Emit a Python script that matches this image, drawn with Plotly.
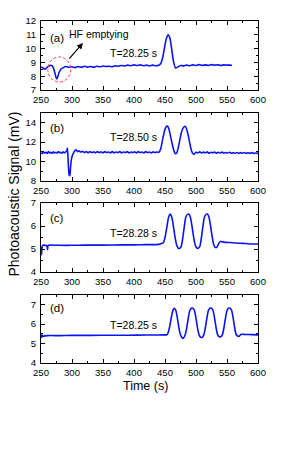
import plotly.graph_objects as go

# ---------------- data ----------------
t_a = [250, 253, 256, 259, 262, 265, 268, 270, 272, 274, 275.5, 277, 279, 282, 286, 290, 295, 300, 305, 310,
       315, 320, 325, 330, 335, 340, 345, 350, 355, 360, 365, 370, 375, 380, 385, 390, 395, 400, 405, 410,
       415, 420, 425, 430, 435, 440, 443, 446, 449, 452, 455, 458, 461, 464, 467, 470, 475, 480, 485, 490,
       495, 500, 505, 510, 515, 520, 525, 530, 535, 540, 545, 550, 555, 558]
v_a = [8.68, 8.6, 8.52, 8.6, 8.72, 8.78, 8.75, 8.6, 8.3, 7.95, 7.8, 7.95, 8.25, 8.5, 8.62, 8.7, 8.65, 8.68, 8.62, 8.7,
       8.64, 8.72, 8.66, 8.7, 8.65, 8.72, 8.68, 8.74, 8.7, 8.72, 8.68, 8.75, 8.72, 8.78, 8.74, 8.8, 8.76, 8.82, 8.78, 8.82,
       8.76, 8.8, 8.74, 8.8, 8.76, 8.8, 8.9, 9.3, 10.0, 10.7, 11.0, 10.75, 9.9, 9.0, 8.6, 8.65, 8.78, 8.75, 8.8, 8.76,
       8.82, 8.78, 8.84, 8.78, 8.82, 8.78, 8.84, 8.8, 8.82, 8.78, 8.82, 8.8, 8.8, 8.78]

t_b = [250, 252, 254, 256, 258, 260, 262, 264, 266, 268, 270, 272, 274, 276, 278, 280, 282, 284, 286, 288,
       290, 291.5, 292.5, 293.5, 294.5, 295.5, 296.5, 297.5, 299, 301, 303, 305, 307, 309, 311, 314, 317, 320, 323, 326,
       329, 332, 335, 338, 341, 344, 347, 350, 353, 356, 359, 362, 365, 368, 371, 374, 377, 380, 383, 386,
       389, 392, 395, 398, 401, 404, 407, 410, 413, 416, 419, 422, 425, 428, 431, 434, 437, 440, 443, 446,
       449, 452, 454, 456, 459, 462, 465, 467, 469, 472, 475, 478, 481, 483, 486, 489, 492, 495, 497, 500,
       503, 506, 509, 512, 515, 518, 521, 524, 527, 530, 533, 536, 539, 542, 545, 548, 551, 554, 557, 560,
       563, 566, 569, 572, 575, 578, 581, 584, 587, 590, 593, 596, 600]
v_b = [10.9, 10.82, 11.02, 10.86, 10.96, 10.84, 11.02, 10.88, 10.96, 10.84, 11.0, 10.88, 10.96, 10.86, 11.02, 10.9, 10.96, 10.86, 11.0, 10.9,
       11.0, 11.1, 11.4, 10.5, 9.2, 8.6, 8.55, 9.3, 10.2, 10.7, 10.95, 11.15, 11.2, 11.02, 11.12, 10.98, 11.05, 10.92, 11.04, 10.9,
       11.02, 10.92, 11.0, 10.9, 11.03, 10.92, 11.0, 10.9, 11.02, 10.92, 10.98, 10.9, 11.02, 10.9, 10.98, 10.92, 11.02, 10.9, 10.98, 10.92,
       11.02, 10.9, 10.98, 10.92, 11.0, 10.9, 11.02, 10.92, 10.98, 10.9, 11.02, 10.92, 10.98, 10.9, 11.0, 10.92, 10.98, 10.95, 11.3, 12.2,
       13.1, 13.6, 13.65, 13.4, 12.6, 11.7, 11.0, 10.8, 10.9, 11.6, 12.6, 13.3, 13.6, 13.6, 13.1, 12.2, 11.3, 10.8, 10.75, 10.95,
       10.9, 11.0, 10.88, 10.98, 10.9, 11.0, 10.86, 10.96, 10.9, 10.98, 10.86, 10.96, 10.88, 10.98, 10.86, 10.94, 10.88, 10.96, 10.86, 10.92,
       10.86, 10.94, 10.84, 10.92, 10.86, 10.94, 10.84, 10.9, 10.84, 10.92, 10.84, 10.88, 10.84]

t_c = [250, 250.8, 251.5, 252.5, 255, 258, 259.5, 260.5, 261.5, 265, 280, 300, 320, 350, 380, 400, 420, 440, 444, 447,
       450, 453, 456, 458.5, 461, 463.5, 466, 468.5, 471, 473.5, 476, 478.5, 481, 483.5, 486, 488.5, 491, 493.5, 496, 498.5,
       501, 503.5, 506, 508.5, 511, 513.5, 516, 518.5, 521, 523.5, 526, 528.5, 531, 533.5, 536, 539, 545, 555, 570, 580,
       590, 600]
v_c = [5.1, 4.75, 5.0, 5.15, 5.17, 5.15, 5.15, 4.97, 5.15, 5.17, 5.16, 5.16, 5.17, 5.17, 5.18, 5.18, 5.19, 5.2, 5.24, 5.26,
       5.5, 5.95, 6.4, 6.52, 6.38, 6.0, 5.55, 5.2, 5.05, 5.02, 5.1, 5.45, 5.95, 6.38, 6.5, 6.52, 6.38, 6.0, 5.55, 5.2,
       5.05, 5.03, 5.1, 5.45, 5.95, 6.38, 6.5, 6.52, 6.38, 6.0, 5.55, 5.2, 5.07, 5.07, 5.2, 5.32, 5.3, 5.28, 5.25, 5.24,
       5.22, 5.22]

t_d = [250, 250.7, 251.4, 252.1, 253, 260, 280, 300, 330, 360, 390, 420, 440, 450, 453, 455.5, 458, 460.5, 463, 465,
       467.5, 470, 472.5, 475, 477.5, 480, 482.5, 485, 487.5, 490, 492.5, 495, 497.5, 500, 502.5, 505, 507.5, 510, 512.5, 515,
       517.5, 520, 522.5, 525, 527.5, 530, 532.5, 535, 537.5, 540, 542.5, 545, 547.5, 550, 552.5, 555, 557.5, 560, 562.5, 565,
       569, 573, 580, 590, 600]
v_d = [5.35, 5.45, 5.32, 5.44, 5.38, 5.41, 5.41, 5.42, 5.42, 5.43, 5.43, 5.44, 5.44, 5.45, 5.45, 5.6, 5.95, 6.4, 6.72, 6.82,
       6.7, 6.3, 5.8, 5.45, 5.3, 5.29, 5.45, 5.8, 6.3, 6.7, 6.82, 6.82, 6.7, 6.3, 5.8, 5.45, 5.32, 5.32, 5.45, 5.8,
       6.3, 6.7, 6.82, 6.82, 6.7, 6.3, 5.8, 5.45, 5.35, 5.35, 5.45, 5.8, 6.3, 6.7, 6.82, 6.82, 6.7, 6.3, 5.8, 5.45,
       5.37, 5.48, 5.47, 5.46, 5.45]

x_ticks = [250, 300, 350, 400, 450, 500, 550, 600]
panel_labels = ["(a)", "(b)", "(c)", "(d)"]
temp_labels = ["T=28.25 s", "T=28.50 s", "T=28.28 s", "T=28.25 s"]
y_ranges = [[7, 12], [8, 15], [4, 7], [4, 7.5]]
y_dticks = [1, 2, 1, 1]
y_minor = [0.5, 1, 0.5, 0.5]
label_pos = [[276, 10.79, 399, 9.68], [276, 13.49, 399, 12.58], [276, 6.35, 399, 5.70], [276, 6.85, 399, 5.98]]

# ---------------- figure ----------------
W, H = 290, 455
x0p, x1p = 41, 258
panel_px = [(21, 90), (113, 181), (203, 272), (295, 363)]

fig = go.Figure()
series = [(t_a, v_a), (t_b, v_b), (t_c, v_c), (t_d, v_d)]
font_fam = "Liberation Sans, Arial, sans-serif"
layout = dict(template="none", width=W, height=H, margin=dict(l=0, r=0, t=0, b=0, pad=0, autoexpand=False),
              paper_bgcolor="white", plot_bgcolor="white", showlegend=False,
              font=dict(family=font_fam, color="black"))
annotations = []
for i, (tt, vv) in enumerate(series):
    n = "" if i == 0 else str(i + 1)
    fig.add_trace(go.Scatter(x=tt, y=vv, mode="lines", xaxis="x" + n, yaxis="y" + n,
                             line=dict(color="#0a14f0", width=1.6, shape="spline", smoothing=0.6)))
    top, bot = panel_px[i]
    axcommon = dict(showline=True, linecolor="black", linewidth=1, mirror="allticks",
                    ticks="inside", ticklen=4, tickwidth=1, tickcolor="black", automargin=False,
                    showgrid=False, zeroline=False, tickfont=dict(size=9.5, family=font_fam))
    layout["xaxis" + n] = dict(axcommon, domain=[x0p / W, x1p / W], range=[250, 600],
                               tickvals=x_ticks, anchor="y" + n, ticklabelstandoff=1,
                               minor=dict(dtick=25, tick0=250, ticks="inside", ticklen=2, tickcolor="black"))
    layout["yaxis" + n] = dict(axcommon, domain=[1 - bot / H, 1 - top / H], range=y_ranges[i],
                               dtick=y_dticks[i], tick0=0, anchor="x" + n, ticklabelstandoff=2,
                               minor=dict(dtick=y_minor[i], ticks="inside", ticklen=2, tickcolor="black"))
    lp = label_pos[i]
    annotations.append(dict(x=lp[0], y=lp[1], xref="x" + n, yref="y" + n, text=panel_labels[i],
                            showarrow=False, font=dict(size=11.5)))
    annotations.append(dict(x=lp[2], y=lp[3], xref="x" + n, yref="y" + n, text=temp_labels[i],
                            showarrow=False, font=dict(size=10.5)))

annotations.append(dict(x=344, y=11.06, xref="x", yref="y", text="HF emptying",
                        showarrow=False, font=dict(size=10.5)))
annotations.append(dict(x=317.7, y=10.41, ax=293.5, ay=9.17, xref="x", yref="y", axref="x", ayref="y",
                        text="", showarrow=True, arrowhead=2, arrowsize=1, arrowwidth=1.2, arrowcolor="black"))
annotations.append(dict(x=13 / W, y=1 - 194.5 / H, xref="paper", yref="paper", text="Photoacoustic Signal (mV)",
                        xanchor="center", yanchor="middle",
                        textangle=-90, showarrow=False, font=dict(size=14)))
annotations.append(dict(x=145 / W, y=1 - 386 / H, xref="paper", yref="paper", text="Time (s)",
                        xanchor="center", yanchor="middle",
                        showarrow=False, font=dict(size=12.5)))
layout["annotations"] = annotations
layout["shapes"] = [dict(type="circle", xref="x", yref="y", x0=261, x1=298, y0=7.58, y1=9.39,
                         line=dict(color="#ff4040", width=1, dash="3px,2px"))]
fig.update_layout(**layout)
fig.write_html("out.html", post_script="document.body.style.margin='0';",
               config={"displayModeBar": False})
